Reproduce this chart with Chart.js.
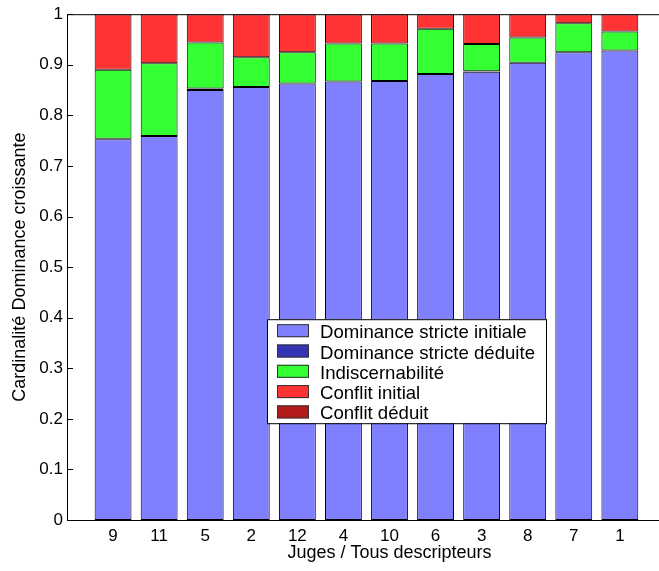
<!DOCTYPE html>
<html>
<head>
<meta charset="utf-8">
<script src="https://cdn.jsdelivr.net/npm/chart.js@4"></script>
<style>
  html, body { margin: 0; padding: 0; background: #fff; overflow: hidden; }
  #wrap { width: 659px; height: 571px; overflow: hidden; }
</style>
</head>
<body>
<div id="wrap"><canvas id="chart" width="730" height="571"></canvas></div>
<script>
  // Judges, in order of increasing strict dominance
  const judges = ['9', '11', '5', '2', '12', '4', '10', '6', '3', '8', '7', '1'];

  const domInitiale = [0.753, 0.759, 0.850, 0.856, 0.863, 0.867, 0.868, 0.882, 0.886, 0.904, 0.925, 0.928];
  const domDeduite = [0.001, 0, 0.003, 0, 0, 0, 0, 0, 0.001, 0, 0, 0];
  const indiscernabilite = [0.136, 0.144, 0.091, 0.059, 0.062, 0.075, 0.074, 0.089, 0.054, 0.050, 0.057, 0.038];
  const conflitInitial = [0.110, 0.097, 0.056, 0.085, 0.075, 0.058, 0.058, 0.029, 0.059, 0.046, 0.018, 0.034];
  const conflitDeduit = [0, 0, 0, 0, 0, 0, 0, 0, 0, 0, 0, 0];

  const yTicks = [0, 0.1, 0.2, 0.3, 0.4, 0.5, 0.6, 0.7, 0.8, 0.9, 1];

  const FONT = "'Liberation Sans', Arial, Helvetica, sans-serif";

  function series(label, values, color) {
    return {
      label: label,
      data: values.map((v, i) => ({ x: i + 1, y: v })),
      backgroundColor: color,
      borderColor: '#000',
      borderWidth: 1,
      borderSkipped: false,
      categoryPercentage: 1,
      barPercentage: 0.8
    };
  }

  // legend box drawn inside the plot area
  const boxLegend = {
    id: 'boxLegend',
    afterDraw(chart) {
      const ctx = chart.ctx;
      const a = chart.chartArea;
      const x = a.left + 200, y = a.top + 305;
      const w = 279, h = 104;
      ctx.save();
      ctx.fillStyle = '#fff';
      ctx.fillRect(x, y, w, h);
      ctx.strokeStyle = '#000';
      ctx.lineWidth = 1;
      ctx.strokeRect(x + 0.5, y + 0.5, w, h);
      ctx.font = '18.6px ' + FONT;
      ctx.textBaseline = 'alphabetic';
      chart.data.datasets.forEach((ds, i) => {
        const ry = y + 5 + i * 20.3;
        ctx.fillStyle = ds.backgroundColor;
        ctx.fillRect(x + 10, ry, 32, 13);
        ctx.strokeStyle = '#333';
        ctx.strokeRect(x + 10.5, ry + 0.5, 31, 12);
        ctx.fillStyle = '#000';
        ctx.fillText(ds.label, x + 53, ry + 14);
      });
      ctx.restore();
    }
  };

  // inward tick marks on the left axis and the top frame line
  const frame = {
    id: 'frame',
    afterDraw(chart) {
      const ctx = chart.ctx;
      const a = chart.chartArea;
      const ys = chart.scales.y;
      ctx.save();
      ctx.strokeStyle = '#000';
      ctx.lineWidth = 1;
      ctx.beginPath();
      ctx.moveTo(a.left, a.top + 0.5);
      ctx.lineTo(a.right, a.top + 0.5);
      yTicks.forEach(t => {
        const py = Math.round(ys.getPixelForValue(t)) + 0.5;
        ctx.moveTo(a.left, py);
        ctx.lineTo(a.left + 6, py);
      });
      ctx.stroke();
      ctx.restore();
    }
  };

  new Chart(document.getElementById('chart'), {
    type: 'bar',
    data: {
      datasets: [
        series('Dominance stricte initiale', domInitiale, '#8080ff'),
        series('Dominance stricte déduite', domDeduite, '#3434b4'),
        series('Indiscernabilité', indiscernabilite, '#33ff33'),
        series('Conflit initial', conflitInitial, '#ff3333'),
        series('Conflit déduit', conflitDeduit, '#b31b1b')
      ]
    },
    options: {
      responsive: false,
      animation: false,
      layout: { padding: { top: 12, right: 18, left: 0, bottom: 0 } },
      plugins: {
        legend: { display: false },
        tooltip: { enabled: false }
      },
      scales: {
        x: {
          type: 'linear',
          stacked: true,
          offset: false,
          min: 0,
          max: 14,
          grid: { display: false, drawTicks: false },
          border: { display: true, color: '#000', width: 1 },
          ticks: {
            stepSize: 1,
            autoSkip: false,
            maxRotation: 0,
            padding: 6,
            color: '#000',
            font: { family: FONT, size: 17 },
            callback: v => (Number.isInteger(v) && v >= 1 && v <= judges.length) ? judges[v - 1] : ''
          },
          title: {
            display: true,
            text: 'Juges / Tous descripteurs',
            color: '#000',
            font: { family: FONT, size: 18 },
            padding: { top: 0, bottom: 7 }
          },
          afterFit(scale) { scale.height = 51; }
        },
        y: {
          stacked: true,
          min: 0,
          max: 1,
          grid: { display: false, drawTicks: false },
          border: { display: true, color: '#000', width: 1 },
          ticks: {
            stepSize: 0.1,
            padding: 4,
            color: '#000',
            font: { family: FONT, size: 17 },
            callback: v => String(Math.round(v * 10) / 10)
          },
          title: {
            display: true,
            text: 'Cardinalité Dominance croissante',
            color: '#000',
            font: { family: FONT, size: 18 },
            padding: { top: 9.5, bottom: 0 }
          },
          afterFit(scale) { scale.width = 67; }
        }
      }
    },
    plugins: [boxLegend, frame]
  });
</script>
</body>
</html>
